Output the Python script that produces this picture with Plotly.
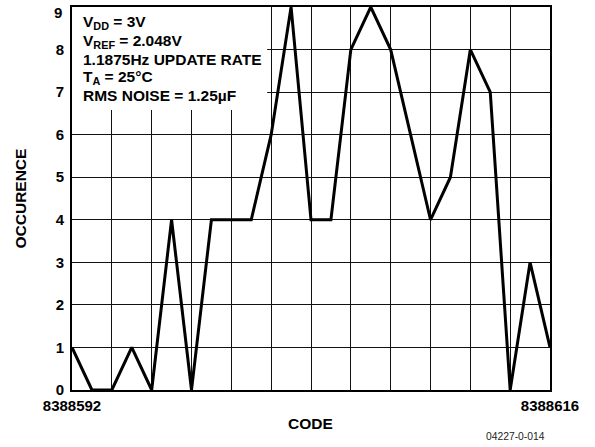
import plotly.graph_objects as go

# Data
codes = list(range(8388592, 8388617))
occurrence = [1, 0, 0, 1, 0, 4, 0, 4, 4, 4, 6, 9, 4, 4, 8, 9, 8, 6, 4, 5, 8, 7, 0, 3, 1]
x_tick_vals = [8388592, 8388616]
x_tick_text = ["8388592", "8388616"]
x_grid_step = 2
y_tick_vals = list(range(0, 9))
y_top_label = "9"
condition_lines = [
    "V<sub>DD</sub> = 3V",
    "V<sub>REF</sub> = 2.048V",
    "1.1875Hz UPDATE RATE",
    "T<sub>A</sub> = 25°C",
    "RMS NOISE = 1.25µF",
]

FONT = "Liberation Sans, Arial, sans-serif"
W, H = 595, 447
L, R, T, B = 72, 45, 7, 57

fig = go.Figure()
fig.add_trace(go.Scatter(
    x=codes, y=occurrence, mode="lines",
    line=dict(color="black", width=3),
    hoverinfo="skip", showlegend=False,
))

# white box behind the condition text (covers gridlines)
fig.add_shape(type="rect", xref="x", yref="y",
              x0=8388592, x1=8388601.8, y0=6.58, y1=9,
              fillcolor="white", line=dict(width=0), layer="between")

# condition text, one line per annotation (cap-centre pixel rows)
line_centres = [22.5, 41, 59.3, 77.6, 95.5]
for txt, yc in zip(condition_lines, line_centres):
    fig.add_annotation(xref="paper", yref="paper", x=0, y=1, xanchor="left", yanchor="middle",
                       xshift=9, yshift=-(yc - T), text=txt, showarrow=False, align="left",
                       font=dict(family=FONT, size=15.5, color="black", weight="bold"))

# top y label, nudged down to stay inside the page (as in the reference)
fig.add_annotation(xref="paper", yref="paper", x=0, y=1, xanchor="right", yanchor="middle",
                   xshift=-8, yshift=-5, text=y_top_label, showarrow=False,
                   font=dict(family=FONT, size=15, color="black", weight="bold"))

fig.add_annotation(xref="paper", yref="paper", x=0, y=0.5, xanchor="center", yanchor="middle",
                   xshift=-52, text="OCCURENCE", textangle=-90, showarrow=False,
                   font=dict(family=FONT, size=15.5, color="black", weight="bold"))
fig.add_annotation(xref="paper", yref="paper", x=0.5, y=0, xanchor="center", yanchor="middle",
                   xshift=-1, yshift=-33.5, text="CODE", showarrow=False,
                   font=dict(family=FONT, size=15.5, color="black", weight="bold"))
fig.add_annotation(xref="paper", yref="paper", x=1, y=0, xanchor="right", yanchor="middle",
                   xshift=-3, yshift=-46.5, text="04227-0-014", showarrow=False,
                   font=dict(family=FONT, size=10.3, color="#222"))

fig.update_xaxes(range=[8388592, 8388616], tickvals=x_tick_vals, ticktext=x_tick_text,
                 showgrid=False,
                 minor=dict(tick0=8388592, dtick=x_grid_step, showgrid=True,
                            gridcolor="#111", gridwidth=1.4, ticks=""),
                 showline=True, linecolor="black", linewidth=2, mirror=True,
                 ticks="", zeroline=False, ticklabelstandoff=1, automargin=False,
                 ticklabeloverflow="allow",
                 tickfont=dict(family=FONT, size=15, color="black", weight="bold"))
fig.update_yaxes(range=[0, 9], tickvals=y_tick_vals,
                 showgrid=True, gridcolor="#111", gridwidth=1.4,
                 showline=True, linecolor="black", linewidth=2, mirror=True,
                 ticks="", zeroline=False, ticklabelstandoff=3, automargin=False,
                 ticklabeloverflow="allow",
                 tickfont=dict(family=FONT, size=15, color="black", weight="bold"))

fig.update_layout(width=W, height=H, margin=dict(l=L, r=R, t=T, b=B),
                  paper_bgcolor="white", plot_bgcolor="white")

fig.write_html("out.html", config={"displayModeBar": False},
               post_script="document.body.style.margin='0px';")
